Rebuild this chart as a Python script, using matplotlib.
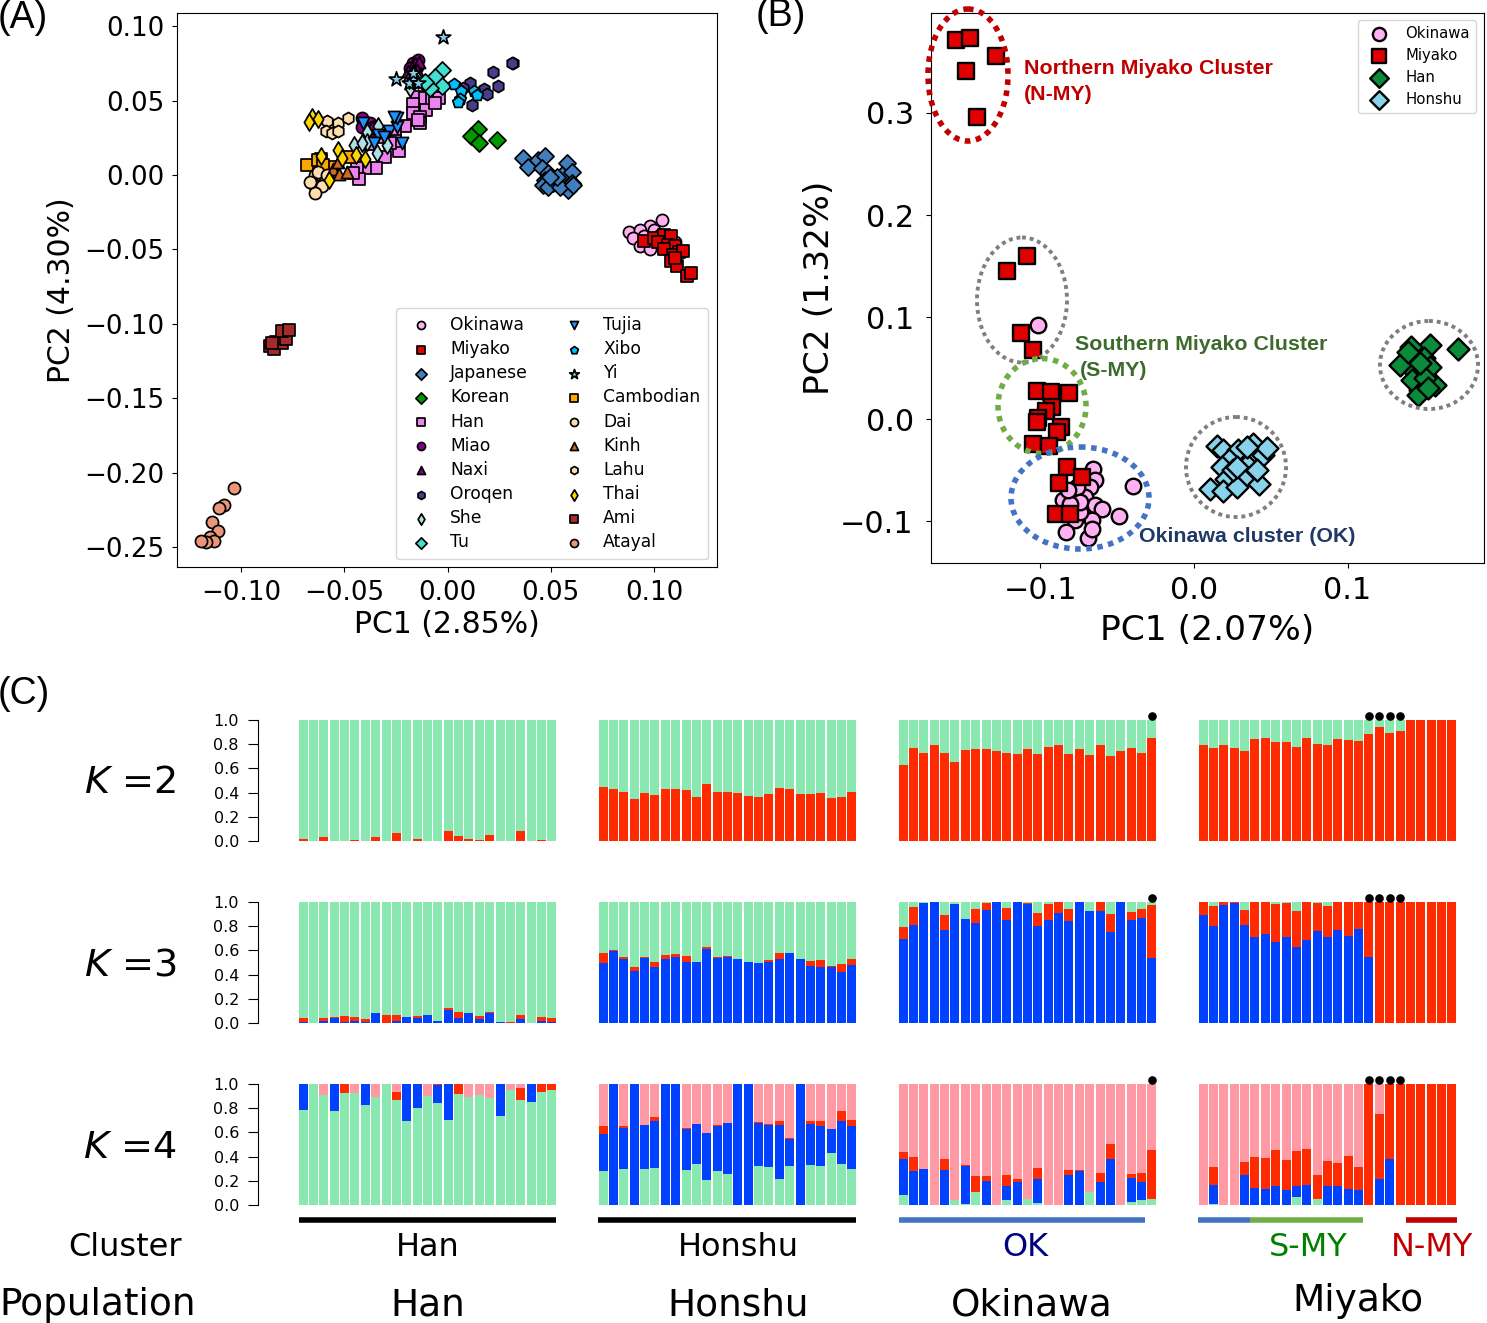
#!/usr/bin/env python3
"""PCA panels (A, B) and ADMIXTURE-style stacked bars (C)."""
import matplotlib
matplotlib.use("Agg")
import matplotlib.pyplot as plt
from matplotlib.patches import Ellipse

W, H = 1487, 1323

# ---- panel A: PC1, PC2 per population
okinawa_a = [(.104,-.030),(.098,-.034),(.088,-.038),(.093,-.037),(.100,-.037),(.090,-.042),(.095,-.041),(.103,-.040),
             (.097,-.045),(.093,-.048),(.106,-.043),(.100,-.046),(.110,-.045),(.098,-.050),(.105,-.049)]
miyako_a = [(.095,-.044),(.100,-.042),(.105,-.040),(.108,-.041),(.102,-.045),(.107,-.047),(.110,-.048),(.112,-.052),
            (.105,-.050),(.109,-.054),(.114,-.051),(.108,-.058),(.111,-.061),(.116,-.068),(.118,-.066),(.110,-.056)]
japanese_a = [(.0367,.0112),(.0391,.0056),(.044,.0101),(.0472,.0128),(.0456,.0045),(.0577,.0078),(.0488,.0011),(.0553,0),
              (.0601,.0022),(.0512,-.0056),(.0472,-.0034),(.0464,-.0067),(.0488,-.0078),(.0585,-.0101),(.0601,-.0056),
              (.0545,-.0078),(.0529,-.0011),(.0609,-.0067),(.0496,-.0011)]
korean_a = [(.0149,.0307),(.0114,.0262),(.0153,.0213),(.0238,.0235)]
han_a = [(-.0149,.0526),(-.0109,.0515),(-.0077,.0509),(-.0041,.0515),(-.0165,.0477),(-.0106,.0437),(-.0169,.0414),
         (-.0133,.0392),(-.0206,.0329),(-.0133,.0347),(-.0254,.028),(-.0235,.0163),(-.0303,.0119),(-.0254,.0231),
         (-.0348,.0045),(-.04,.0045),(-.044,.0045),(-.0429,-.0029),(-.0456,.0011),(-.0061,.0482),(-.0311,.0258),
         (-.0278,.0213),(-.0141,.037),(-.0375,.0208)]
miao_a = [(-.0415,.0381),(-.0375,.0347),(-.04,.0314),(-.0415,.0325),(-.0359,.0325),(-.0383,.028),(-.0351,.0314),
          (-.0165,.075),(-.0141,.0773),(-.0182,.0717),(-.0149,.0728)]
naxi_a = [(-.0157,.075),(-.0137,.0761),(-.0173,.0728),(-.0149,.0706),(-.019,.07)]
oroqen_a = [(.0319,.075),(.0311,.075),(.0219,.0694),(.0243,.06),(.0111,.062),(.0177,.0576),(.019,.0544),(.0117,.047),(.0077,.0582)]
she_a = [(-.0388,.0291),(-.0335,.0329),(-.0453,.0202),(-.0391,.0224),(-.0415,.0213),(-.0294,.0202),(-.034,.015),
         (-.0182,.0582),(-.0186,.0638),(-.0169,.0683),(-.0141,.0638)]
tu_a = [(-.0028,.0706),(-.0061,.0661),(-.0028,.06),(-.0085,.0582),(-.0109,.0627)]
tujia_a = [(-.0408,.0347),(-.0283,.0296),(-.0335,.0269),(-.0306,.0258),(-.0354,.0213),(-.0222,.0213),(-.0246,.0321),
           (-.0246,.0381),(-.0259,.0392)]
xibo_a = [(.0033,.0612),(.0064,.0565),(.0128,.0565),(.0061,.0509),(.0052,.0493),(.0141,.0538)]
yi_a = [(-.0023,.0925),(-.0249,.0645),(-.0165,.0638),(-.0185,.0616),(-.0141,.0616),(-.0165,.0683)]
cambodian_a = [(-.0682,.0067),(-.0613,.0105),(-.0626,.0101),(-.0472,.0123),(-.0561,.0056),(-.0601,.0067)]
dai_a = [(-.0642,0),(-.0658,-.0056),(-.0609,-.0072),(-.0642,-.0123),(-.0626,.0022),(-.0585,0),(-.0666,-.0049)]
kinh_a = [(-.0553,.0038),(-.0524,.0007),(-.0488,.0022),(-.0532,.0089)]
lahu_a = [(-.0585,.0363),(-.0529,.0352),(-.048,.0381),(-.0588,.0296),(-.0561,.0284),(-.0529,.0296)]
thai_a = [(-.0658,.0392),(-.0629,.0374),(-.0669,.0358),(-.0529,.0168),(-.0614,.0128),(-.0512,.0116),(-.0445,.0134),
          (-.04,.0108),(-.0572,-.0034)]
ami_a = [(-.086,-.115),(-.084,-.117),(-.083,-.112),(-.080,-.113),(-.078,-.110),(-.080,-.105),(-.077,-.104),(-.085,-.113)]
atayal_a = [(-.1034,-.21),(-.108,-.222),(-.1107,-.224),(-.114,-.233),(-.111,-.239),(-.115,-.243),(-.113,-.246),
            (-.117,-.2465),(-.1195,-.246)]

# name, points, marker, face colour
POPS_A = [
    ("Okinawa", okinawa_a, "o", "#FFB0F0"), ("Miyako", miyako_a, "s", "#E00000"),
    ("Japanese", japanese_a, "D", "#3F7FBF"), ("Korean", korean_a, "D", "#009900"),
    ("Han", han_a, "s", "#EE82EE"), ("Miao", miao_a, "o", "#8B008B"),
    ("Naxi", naxi_a, "^", "#800080"), ("Oroqen", oroqen_a, "h", "#483D8B"),
    ("She", she_a, "d", "#B0E0E6"), ("Tu", tu_a, "D", "#40E0D0"),
    ("Tujia", tujia_a, "v", "#1E90FF"), ("Xibo", xibo_a, "p", "#00BFFF"),
    ("Yi", yi_a, "*", "#87CEEB"), ("Cambodian", cambodian_a, "s", "#FFA500"),
    ("Dai", dai_a, "o", "#FFDEAD"), ("Kinh", kinh_a, "^", "#D2691E"),
    ("Lahu", lahu_a, "h", "#FFDEAD"), ("Thai", thai_a, "d", "#FFD700"),
    ("Ami", ami_a, "s", "#A52A2A"), ("Atayal", atayal_a, "o", "#E9967A"),
]

# ---- panel B
okinawa_b = [(-.0656,-.049),(-.0645,-.0598),(-.0678,-.0664),(-.0399,-.0654),(-.0851,-.0794),(-.071,-.0762),(-.0645,-.0837),
             (-.0601,-.0876),(-.0775,-.086),(-.0775,-.099),(-.0667,-.0984),(-.0834,-.1105),(-.0693,-.1163),(-.0667,-.1072),
             (-.0487,-.0951),(-.0743,-.0908),(-.0764,-.0664),(-.0743,-.081),(-.0808,-.0827),(-.0819,-.0696),(-.1016,.0922)]
miyako_b = [(-.155,.3716),(-.1459,.3735),(-.129,.3559),(-.1485,.3412),(-.1414,.2961),(-.1218,.1451),(-.1088,.1598),
            (-.1127,.0843),(-.1049,.0676),(-.1025,.0277),(-.0932,.0268),(-.0814,.0258),(-.0927,.0118),(-.0966,.0078),
            (-.1014,.001),(-.1023,-.0029),(-.0866,-.0075),(-.0894,-.013),(-.1051,-.0245),(-.0945,-.0265),(-.0825,-.0468),
            (-.0732,-.0572),(-.0879,-.063),(-.0899,-.0925),(-.0808,-.0925)]
han_b = [(.172,.0686),(.1537,.0725),(.1414,.0706),(.1342,.0529),(.1498,.0598),(.144,.0461),(.1537,.051),(.157,.0333),
         (.1472,.0284),(.142,.0382),(.1505,.0402),(.1459,.0235),(.1394,.0657),(.1472,.0549),(.1524,.0304)]
honshu_b = [(.0148,-.0265),(.0191,-.0304),(.0386,-.0245),(.0289,-.0304),(.0451,-.0353),(.023,-.0402),(.018,-.0474),
            (.0343,-.0451),(.0321,-.0582),(.0206,-.0582),(.0425,-.0637),(.0104,-.0689),(.0191,-.0703),(.0278,-.0664),
            (.0474,-.0287),(.0343,-.0271),(.0408,-.05),(.0256,-.05),(.0278,-.0468)]

POPS_B = [
    ("Okinawa", okinawa_b, "o", "#FFB0F0"), ("Miyako", miyako_b, "s", "#E00000"),
    ("Han", han_b, "D", "#0B8A3C"), ("Honshu", honshu_b, "D", "#87D3EB"),
]

# ---- panel C: ancestry fractions per individual (top layer is the remainder)
han_k2_red = [.02,0,.03,0,0,.01,0,.03,0,.07,0,.02,0,0,.08,.04,.02,.01,.05,0,0,.08,0,.01,0]
honshu_k2_red = [.449,.433,.405,.345,.395,.384,.433,.427,.425,.364,.468,.403,.408,.395,.373,.367,.392,.436,.433,.392,.392,.397,.353,.367,.403]
okinawa_k2_red = [.63,.77,.73,.79,.73,.65,.75,.76,.76,.74,.73,.72,.76,.72,.78,.79,.72,.76,.71,.79,.70,.74,.77,.73,.85]
miyako_k2_red = [.795,.77,.795,.77,.74,.84,.85,.82,.816,.773,.85,.803,.797,.847,.838,.83,.882,.942,.896,.91,1,1,1,1,1]

han_k3_blue = [.01,0,.02,.04,.01,.02,.01,.08,0,.02,.05,.04,.07,.02,.11,.04,.08,.03,.08,.01,0,.03,0,.02,.01]
han_k3_red = [.03,0,.02,.01,.05,.03,.02,0,.07,.05,0,.02,0,0,.01,.05,0,.03,.01,0,.01,.04,0,.03,.03]
honshu_k3_blue = [.497,.596,.53,.429,.538,.464,.525,.544,.508,.503,.613,.538,.547,.525,.503,.497,.508,.53,.58,.525,.473,.462,.459,.423,.481]
honshu_k3_red = [.08,.005,.014,.033,.005,.041,.038,.025,.047,.003,.014,.008,.008,.005,.003,.003,.014,.047,0,.005,.041,.058,.014,.066,.049]
okinawa_k3_blue = [.692,.813,.989,1,.769,.981,.86,.824,.934,1,.852,1,.986,.805,.852,.907,.846,1,.923,.923,.75,1,.852,.871,.541]
okinawa_k3_red = [.102,.143,.005,0,.124,.005,0,.115,.058,0,.096,0,.003,.107,.132,.093,.093,0,.005,.077,.148,0,.069,.071,.434]
miyako_k3_blue = [.896,.805,.973,.992,.808,.709,.739,.673,.712,.624,.684,.758,.714,.772,.723,.777,.547,0,0,0,0,0,0,0,0]
miyako_k3_red = [.104,.162,.027,.008,.129,.291,.261,.31,.277,.299,.316,.231,.255,.228,.277,.223,.453,1,1,1,1,1,1,1,1]

han_k4_green = [.786,1,.912,.775,.926,.926,.83,.89,1,.868,.696,.805,.904,.841,.701,.915,.896,.91,.882,.734,.953,.871,.852,.932,.953]
han_k4_blue = [.214,0,0,.225,0,0,.17,0,0,0,.304,.192,0,.148,.296,0,0,0,0,.266,0,0,.148,0,0]
han_k4_red = [0,0,0,0,.074,0,0,0,0,.068,0,0,0,.011,0,.085,0,0,0,0,0,.096,0,.068,.047]
honshu_k4_green = [.279,0,.301,0,.301,.307,0,0,.29,.34,.203,.279,.26,0,0,.326,.315,.216,.326,0,.329,.323,.43,.34,.299]
honshu_k4_blue = [.304,1,.337,1,.359,.386,1,1,.334,.326,.389,.378,.416,1,1,.351,.345,.444,.219,1,.337,.334,.195,.356,.353]
honshu_k4_red = [.066,0,.011,0,.005,.038,0,0,.016,0,.003,.003,.005,0,0,.005,.011,.038,.005,0,.027,.041,.005,.077,.047]
okinawa_k4_green = [.082,0,0,0,0,.044,.005,.104,0,0,.041,0,.047,.016,.003,0,0,0,.104,0,0,0,.025,.038,.047]
okinawa_k4_blue = [.301,.279,.296,0,.293,0,.318,0,.2,0,.115,.192,0,.197,0,0,.249,.285,0,.189,.378,0,.2,.148,0]
okinawa_k4_red = [.058,.118,0,0,.088,0,.005,.134,.038,0,.088,.019,0,.09,0,0,.044,.003,0,.074,.126,0,.03,.079,.405]
miyako_k4_green = [0,.005,0,0,0,0,0,0,0,.066,0,.049,0,0,0,0,0,0,0,0,0,0,0,0,0]
miyako_k4_blue = [0,.159,0,0,.249,.137,.132,.156,.123,.09,.164,0,.153,.156,.129,.126,0,.219,.378,0,0,0,0,0,0]
miyako_k4_red = [0,.148,0,0,.11,.258,.255,.299,.252,.29,.301,.203,.208,.192,.279,.192,1,.537,.622,1,1,1,1,1,1]

GREEN, RED, BLUE, PINK = "#88E8B0", "#FF2A00", "#0040FF", "#FF99A4"
K_ROWS = [
    # k, top pixel, (layers per column), layer colours, remainder colour
    (2, 720, [[han_k2_red], [honshu_k2_red], [okinawa_k2_red], [miyako_k2_red]], [RED], GREEN),
    (3, 902, [[han_k3_blue, han_k3_red], [honshu_k3_blue, honshu_k3_red],
              [okinawa_k3_blue, okinawa_k3_red], [miyako_k3_blue, miyako_k3_red]], [BLUE, RED], GREEN),
    (4, 1084, [[han_k4_green, han_k4_blue, han_k4_red], [honshu_k4_green, honshu_k4_blue, honshu_k4_red],
               [okinawa_k4_green, okinawa_k4_blue, okinawa_k4_red],
               [miyako_k4_green, miyako_k4_blue, miyako_k4_red]], [GREEN, BLUE, RED], PINK),
]
COLUMN_LEFT = [298, 598, 898, 1198]
MARKED = [[], [], [24], [16, 17, 18, 19]]


def px_axes(fig, left, top, right, bottom):
    return fig.add_axes([left / W, 1 - bottom / H, (right - left) / W, (bottom - top) / H])


def scatter_pops(ax, pops, size, lw):
    for name, pts, marker, color in pops:
        xs = [p[0] for p in pts]
        ys = [p[1] for p in pts]
        s = size * 1.6 if marker == "*" else size
        ax.scatter(xs, ys, s=s, marker=marker, c=color, edgecolors="black", linewidths=lw, label=name)


fig = plt.figure(figsize=(W / 100, H / 100), dpi=100)

# panel A
ax_a = px_axes(fig, 177, 13, 717, 567)
scatter_pops(ax_a, POPS_A, 76, 1.25)
ax_a.set_xlim(-0.131, 0.1305)
ax_a.set_ylim(-0.2634, 0.1089)
ax_a.set_xticks([-0.10, -0.05, 0, 0.05, 0.10])
ax_a.set_xticklabels(["\u22120.10", "\u22120.05", "0.00", "0.05", "0.10"])
ax_a.set_yticks([0.10, 0.05, 0, -0.05, -0.10, -0.15, -0.20, -0.25])
ax_a.set_yticklabels(["0.10", "0.05", "0.00", "\u22120.05", "\u22120.10", "\u22120.15", "\u22120.20", "\u22120.25"])
ax_a.tick_params(labelsize=18.8)
ax_a.tick_params(axis="x", pad=6)
ax_a.tick_params(axis="y", pad=5.5)
ax_a.set_xlabel("PC1 (2.85%)", fontsize=21.5, labelpad=3)
ax_a.set_ylabel("PC2 (4.30%)", fontsize=21.5, labelpad=6)
ax_a.legend(ncol=2, fontsize=12.3, loc="lower right", bbox_to_anchor=(531 / 540, 8 / 554), borderaxespad=0,
            labelspacing=0.36, columnspacing=1.7, handletextpad=0.7, markerscale=0.66, borderpad=0.45)

# panel B
ax_b = px_axes(fig, 931, 13, 1484, 563)
scatter_pops(ax_b, POPS_B, 125, 1.7)
ax_b.set_xlim(-0.1713, 0.1889)
ax_b.set_ylim(-0.141, 0.398)
ax_b.set_xticks([-0.1, 0, 0.1])
ax_b.set_xticklabels(["\u22120.1", "0.0", "0.1"])
ax_b.set_yticks([0.3, 0.2, 0.1, 0, -0.1])
ax_b.set_yticklabels(["0.3", "0.2", "0.1", "0.0", "\u22120.1"])
ax_b.tick_params(labelsize=21.8)
ax_b.tick_params(axis="x", pad=6)
ax_b.tick_params(axis="y", pad=9)
ax_b.set_xlabel("PC1 (2.07%)", fontsize=24.8, labelpad=6)
ax_b.set_ylabel("PC2 (1.32%)", fontsize=24.8, labelpad=3)
ax_b.legend(fontsize=10.7, loc="upper right", bbox_to_anchor=(545 / 553, 543 / 550), borderaxespad=0,
            labelspacing=0.48, handletextpad=0.8, markerscale=0.85, borderpad=0.4)

# panel C
for k, top, columns, colors, rest in K_ROWS:
    for col, (left, layers) in enumerate(zip(COLUMN_LEFT, columns)):
        ax = px_axes(fig, left, top, left + 259, top + 121)
        positions = range(25)
        bottom = [0.0] * 25
        for layer, color in zip(layers, colors):
            ax.bar(positions, layer, bottom=bottom, width=0.87, color=color, linewidth=0)
            bottom = [b + v for b, v in zip(bottom, layer)]
        ax.bar(positions, [1 - b for b in bottom], bottom=bottom, width=0.87, color=rest, linewidth=0)
        ax.set_xlim(-0.5, 24.5)
        ax.set_ylim(0, 1)
        ax.set_xticks([])
        for name in ("top", "right", "bottom"):
            ax.spines[name].set_visible(False)
        if col == 0:
            ax.spines["left"].set_position(("outward", 29))
            ax.set_yticks([0, 0.2, 0.4, 0.6, 0.8, 1.0])
            ax.tick_params(axis="y", labelsize=11.5, length=7, width=0.8, pad=6.5)
        else:
            ax.spines["left"].set_visible(False)
            ax.set_yticks([])
        for i in MARKED[col]:
            ax.plot(i, 1.035, "o", color="black", ms=6.2, mew=0, clip_on=False)

# overlay in pixel coordinates for annotations
ov = fig.add_axes([0, 0, 1, 1], facecolor="none")
ov.set_xlim(0, W)
ov.set_ylim(H, 0)
ov.axis("off")

ELL_CX = [968, 1022, 1042, 1080, 1236, 1429]
ELL_CY = [75, 300, 406, 498, 467, 365]
ELL_W = [80, 90, 88, 138, 100, 98]
ELL_H = [132, 125, 95, 102, 100, 88]
ELL_COLOR = ["#C00000", "#7F7F7F", "#70AD47", "#4472C4", "#7F7F7F", "#7F7F7F"]
ELL_LW = [4.0, 2.8, 4.0, 4.0, 2.8, 2.8]
for cx, cy, w, h, color, lw in zip(ELL_CX, ELL_CY, ELL_W, ELL_H, ELL_COLOR, ELL_LW):
    ov.add_patch(Ellipse((cx, cy), w, h, fill=False, edgecolor=color, linewidth=lw, linestyle=(0, (1, 1))))

note = dict(family="Liberation Sans", fontweight="bold", fontsize=15.4, va="center", ha="left")
ov.text(1024, 69, "Northern Miyako Cluster", color="#C00000", **note)
ov.text(1024, 95, "(N-MY)", color="#C00000", **note)
ov.text(1075, 345, "Southern Miyako Cluster", color="#3D6B2C", **note)
ov.text(1080, 371, "(S-MY)", color="#3D6B2C", **note)
ov.text(1139, 537, "Okinawa cluster (OK)", color="#1F3864", **note)

panel = dict(family="Liberation Sans", fontsize=27, va="center", ha="left")
ov.text(-2, 18, "(A)", **panel)
ov.text(756, 16, "(B)", **panel)
ov.text(-2, 694, "(C)", **panel)

for y, label in zip([783, 965, 1148], ["$K$ =2", "$K$ =3", "$K$ =4"]):
    ov.text(130, y, label, fontsize=27.5, ha="center", va="center")

BAR_X0 = [299, 598, 899, 1198, 1250, 1406]
BAR_X1 = [556, 856, 1145, 1250, 1363, 1457]
BAR_COLOR = ["black", "black", "#4472C4", "#4472C4", "#70AD47", "#C00000"]
for x0, x1, color in zip(BAR_X0, BAR_X1, BAR_COLOR):
    ov.plot([x0, x1], [1220, 1220], color=color, lw=4, solid_capstyle="butt")

CLUSTER_X = [125, 428, 738, 1025, 1308, 1432]
CLUSTER_NAMES = ["Cluster", "Han", "Honshu", "OK", "S-MY", "N-MY"]
CLUSTER_COLOR = ["black", "black", "black", "#000080", "#008000", "#C00000"]
for x, label, color in zip(CLUSTER_X, CLUSTER_NAMES, CLUSTER_COLOR):
    ov.text(x, 1247, label, color=color, fontsize=23, ha="center", va="center")

POP_X = [98, 428, 738, 1032, 1358]
POP_Y = [1305, 1305, 1305, 1305, 1301]
POP_NAMES = ["Population", "Han", "Honshu", "Okinawa", "Miyako"]
for x, y, label in zip(POP_X, POP_Y, POP_NAMES):
    ov.text(x, y, label, fontsize=27, ha="center", va="center")

fig.savefig("out.png", dpi=100)
